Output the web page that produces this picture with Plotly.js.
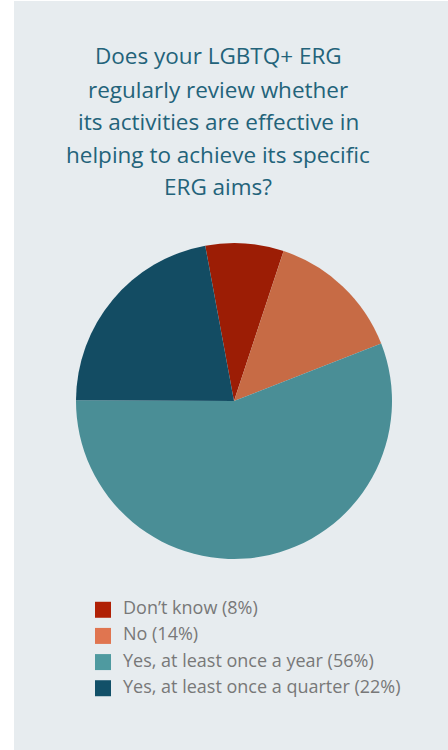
<!DOCTYPE html>
<html><head><meta charset="utf-8">
<script src="https://cdn.plot.ly/plotly-3.0.1.min.js"></script>
<style>html,body{margin:0;padding:0;background:#fff;}#chart{width:448px;height:750px;}</style>
</head><body><div id="chart"></div>
<script>
const titleLines = ["Does your LGBTQ+ ERG","regularly review whether","its activities are effective in","helping to achieve its specific","ERG aims?"];
const categories = ["Don’t know","No","Yes, at least once a year","Yes, at least once a quarter"];
const values = [8, 14, 56, 22];
const pieColors = ["#9c1d05","#c76b45","#4a8e96","#134c63"];
const legendColors = ["#b02005","#e07550","#4f9aa0","#125068"];

const W = 448, H = 750;
const titleCenters = [56, 89, 121, 154, 186];

const pie = {
  type: 'pie',
  labels: categories,
  values: values,
  sort: false,
  direction: 'clockwise',
  rotation: -10.5,
  marker: {colors: pieColors, line: {width: 0}},
  textinfo: 'none',
  hoverinfo: 'none',
  showlegend: false,
  domain: {x: [76/W, 392/W], y: [1-559/H, 1-243/H]}
};

const legendMarkers = {
  type: 'scatter',
  mode: 'markers',
  x: categories.map(() => 0),
  y: categories,
  marker: {symbol: 'square', size: 16, color: legendColors},
  hoverinfo: 'none',
  showlegend: false,
  cliponaxis: false
};

const legendText = {
  type: 'scatter',
  mode: 'text',
  xaxis: 'x2',
  x: categories.map(() => 0),
  y: categories,
  text: categories.map((c, i) => c + ' (' + values[i] + '%)'),
  textposition: 'middle right',
  textfont: {family: '"Open Sans", sans-serif', size: 18, color: '#787878'},
  hoverinfo: 'none',
  showlegend: false,
  cliponaxis: false
};

const layout = {
  width: W, height: H,
  margin: {l: 0, r: 0, t: 0, b: 0},
  paper_bgcolor: '#ffffff',
  plot_bgcolor: 'rgba(0,0,0,0)',
  showlegend: false,
  font: {family: '"Open Sans", sans-serif'},
  xaxis: {domain: [0, 1], range: [-103/W, 1-103/W], visible: false, fixedrange: true},
  xaxis2: {domain: [0, 1], range: [-123/W, 1-123/W], visible: false, fixedrange: true, overlaying: 'x'},
  yaxis: {domain: [1-703.7/H, 1-594.3/H], type: 'category', autorange: 'reversed', visible: false, fixedrange: true},
  shapes: [{type: 'rect', xref: 'paper', yref: 'paper', x0: 14/W, x1: 1, y0: 0, y1: 1-1/H, fillcolor: '#e7ecef', line: {width: 0}, layer: 'below'}],
  annotations: titleLines.map((t, i) => ({
    text: t, xref: 'paper', yref: 'paper', x: 218/W, y: 1 - titleCenters[i]/H,
    xanchor: 'center', yanchor: 'middle', showarrow: false,
    font: {family: '"Open Sans", sans-serif', size: 22.5, color: '#23637a'}
  }))
};

Plotly.newPlot('chart', [pie, legendMarkers, legendText], layout, {displayModeBar: false, staticPlot: true});
</script></body></html>
